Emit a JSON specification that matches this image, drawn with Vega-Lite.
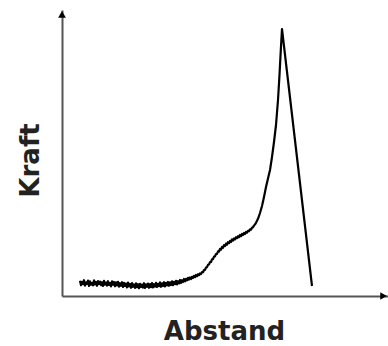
{
  "$schema": "https://vega.github.io/schema/vega-lite/v6.json",
  "width": 326,
  "height": 286,
  "autosize": {"type": "none"},
  "padding": {"left": 62, "top": 10, "right": 0, "bottom": 50},
  "background": "white",
  "config": {"view": {"stroke": null}},
  "datasets": {
    "curve": [
      {"d": 9, "f": 7.6}, {"d": 9.5, "f": 5.4}, {"d": 10, "f": 7.1}, {"d": 10.5, "f": 5.9}, {"d": 11, "f": 7.9},
      {"d": 11.5, "f": 5.2}, {"d": 12, "f": 6.8}, {"d": 12.5, "f": 6.1}, {"d": 13, "f": 7.7}, {"d": 13.5, "f": 5.0},
      {"d": 14, "f": 7.3}, {"d": 14.5, "f": 5.6}, {"d": 15, "f": 6.6}, {"d": 15.5, "f": 5.3}, {"d": 16, "f": 7.8},
      {"d": 16.5, "f": 5.8}, {"d": 17, "f": 7.0}, {"d": 17.5, "f": 5.1}, {"d": 18, "f": 7.5}, {"d": 18.5, "f": 6.0},
      {"d": 19, "f": 7.2}, {"d": 19.5, "f": 5.4}, {"d": 20, "f": 6.9}, {"d": 20.5, "f": 5.0}, {"d": 21, "f": 7.6},
      {"d": 21.5, "f": 5.7}, {"d": 22, "f": 6.7}, {"d": 22.5, "f": 5.2}, {"d": 23, "f": 7.4}, {"d": 23.5, "f": 5.5},
      {"d": 24, "f": 6.5}, {"d": 24.5, "f": 4.8}, {"d": 25, "f": 7.3}, {"d": 25.5, "f": 5.6}, {"d": 26, "f": 7.0},
      {"d": 26.5, "f": 4.9}, {"d": 27, "f": 6.8}, {"d": 27.5, "f": 5.3}, {"d": 28, "f": 7.1}, {"d": 28.5, "f": 4.7},
      {"d": 29, "f": 6.4}, {"d": 29.5, "f": 5.1}, {"d": 30, "f": 6.9}, {"d": 30.5, "f": 4.5}, {"d": 31, "f": 6.6},
      {"d": 31.5, "f": 5.0}, {"d": 32, "f": 6.2}, {"d": 32.5, "f": 4.3}, {"d": 33, "f": 6.7}, {"d": 33.5, "f": 4.8},
      {"d": 34, "f": 6.0}, {"d": 34.5, "f": 4.1}, {"d": 35, "f": 6.5}, {"d": 35.5, "f": 4.6}, {"d": 36, "f": 5.8},
      {"d": 36.5, "f": 4.0}, {"d": 37, "f": 6.3}, {"d": 37.5, "f": 4.4}, {"d": 38, "f": 5.9}, {"d": 38.5, "f": 3.9},
      {"d": 39, "f": 6.1}, {"d": 39.5, "f": 4.5}, {"d": 40, "f": 5.7}, {"d": 40.5, "f": 4.2}, {"d": 41, "f": 6.4},
      {"d": 41.5, "f": 4.0}, {"d": 42, "f": 5.8}, {"d": 42.5, "f": 4.6}, {"d": 43, "f": 6.2}, {"d": 43.5, "f": 4.1},
      {"d": 44, "f": 6.0}, {"d": 44.5, "f": 4.4}, {"d": 45, "f": 6.5}, {"d": 45.5, "f": 4.3}, {"d": 46, "f": 5.9},
      {"d": 46.5, "f": 4.7}, {"d": 47, "f": 6.6}, {"d": 47.5, "f": 4.5}, {"d": 48, "f": 6.1}, {"d": 48.5, "f": 4.9},
      {"d": 49, "f": 6.8}, {"d": 49.5, "f": 4.6}, {"d": 50, "f": 6.3}, {"d": 50.5, "f": 5.0}, {"d": 51, "f": 6.9},
      {"d": 51.5, "f": 4.8}, {"d": 52, "f": 6.6}, {"d": 52.5, "f": 5.3}, {"d": 53, "f": 7.0}, {"d": 53.5, "f": 5.1},
      {"d": 54, "f": 6.8}, {"d": 54.5, "f": 5.5}, {"d": 55, "f": 7.3}, {"d": 55.5, "f": 5.4}, {"d": 56, "f": 7.1},
      {"d": 56.5, "f": 5.9}, {"d": 57, "f": 7.6}, {"d": 57.5, "f": 5.8}, {"d": 58, "f": 7.4}, {"d": 58.5, "f": 6.3},
      {"d": 59, "f": 8.0}, {"d": 59.5, "f": 6.5}, {"d": 60, "f": 7.9}, {"d": 60.5, "f": 7.0}, {"d": 61, "f": 8.5},
      {"d": 61.5, "f": 7.3}, {"d": 62, "f": 8.6}, {"d": 62.5, "f": 7.8}, {"d": 63, "f": 9.1}, {"d": 63.5, "f": 8.2},
      {"d": 64, "f": 9.3}, {"d": 64.5, "f": 8.5}, {"d": 65, "f": 9.6}, {"d": 65.5, "f": 9.0}, {"d": 66, "f": 10.1},
      {"d": 66.5, "f": 9.4}, {"d": 67, "f": 10.5}, {"d": 67.5, "f": 9.9}, {"d": 68, "f": 10.9}, {"d": 68.5, "f": 10.4},
      {"d": 69, "f": 11.3}, {"d": 69.5, "f": 11.0}, {"d": 70, "f": 12.0}, {"d": 70.5, "f": 11.9}, {"d": 71, "f": 13.0},
      {"d": 71.5, "f": 13.1}, {"d": 72, "f": 14.2}, {"d": 72.5, "f": 14.4}, {"d": 73, "f": 15.6}, {"d": 73.5, "f": 15.8},
      {"d": 74, "f": 16.9}, {"d": 74.5, "f": 17.0}, {"d": 75, "f": 18.3}, {"d": 75.5, "f": 18.4}, {"d": 76, "f": 19.7},
      {"d": 76.5, "f": 19.8}, {"d": 77, "f": 21.0}, {"d": 77.5, "f": 21.1}, {"d": 78, "f": 22.3}, {"d": 78.5, "f": 22.2},
      {"d": 79, "f": 23.5}, {"d": 79.5, "f": 23.2}, {"d": 80, "f": 24.5}, {"d": 80.5, "f": 24.1}, {"d": 81, "f": 25.4},
      {"d": 81.5, "f": 25.0}, {"d": 82, "f": 26.2}, {"d": 82.5, "f": 25.7}, {"d": 83, "f": 26.9}, {"d": 83.5, "f": 26.4},
      {"d": 84, "f": 27.6}, {"d": 84.5, "f": 27.0}, {"d": 85, "f": 28.3}, {"d": 85.5, "f": 27.7}, {"d": 86, "f": 28.8},
      {"d": 86.5, "f": 28.3}, {"d": 87, "f": 29.4}, {"d": 87.5, "f": 28.9}, {"d": 88, "f": 29.9}, {"d": 88.5, "f": 29.4},
      {"d": 89, "f": 30.5}, {"d": 89.5, "f": 29.9}, {"d": 90, "f": 31.0}, {"d": 90.5, "f": 30.5}, {"d": 91, "f": 31.5},
      {"d": 91.5, "f": 31.0}, {"d": 92, "f": 32.0}, {"d": 92.5, "f": 31.7}, {"d": 93, "f": 32.6}, {"d": 93.5, "f": 32.4},
      {"d": 94, "f": 33.3}, {"d": 94.5, "f": 33.2}, {"d": 95, "f": 34.1}, {"d": 95.5, "f": 34.4}, {"d": 96, "f": 35.2},
      {"d": 96.5, "f": 35.8}, {"d": 97, "f": 36.6}, {"d": 98, "f": 38.6},
      {"d": 99, "f": 41.5}, {"d": 100, "f": 45}, {"d": 101, "f": 49.5}, {"d": 102, "f": 54.5}, {"d": 103, "f": 58.8},
      {"d": 104, "f": 63}, {"d": 105, "f": 69.5}, {"d": 106, "f": 77}, {"d": 107, "f": 85.5}, {"d": 108, "f": 98},
      {"d": 108.75, "f": 110.5}, {"d": 109.4, "f": 123}, {"d": 110, "f": 133.5},
      {"d": 125, "f": 5}
    ],
    "arrows": [
      {"d": 0, "f": 140.8, "shape": "triangle-up"},
      {"d": 160.8, "f": 0, "shape": "triangle-right"}
    ]
  },
  "layer": [
    {
      "data": {"name": "curve"},
      "mark": {"type": "line", "color": "black", "strokeWidth": 2.2, "strokeJoin": "round", "clip": false},
      "encoding": {
        "x": {
          "field": "d", "type": "quantitative",
          "scale": {"domain": [0, 163], "nice": false, "zero": false},
          "axis": {
            "title": "Abstand", "labels": false, "ticks": false, "grid": false,
            "domainColor": "#555", "domainWidth": 2,
            "titleFont": "DejaVu Sans", "titleFontSize": 26, "titleFontWeight": "bold", "titleColor": "#222",
            "titleBaseline": "alphabetic", "titleAnchor": "start", "titleAlign": "center",
            "titleX": 162, "titleY": 43
          }
        },
        "y": {
          "field": "f", "type": "quantitative",
          "scale": {"domain": [0, 143], "nice": false, "zero": false},
          "axis": {
            "title": "Kraft", "labels": false, "ticks": false, "grid": false,
            "domainColor": "#555", "domainWidth": 2,
            "titleFont": "DejaVu Sans", "titleFontSize": 26, "titleFontWeight": "bold", "titleColor": "#222",
            "titleBaseline": "alphabetic", "titleAngle": 270, "titleAlign": "center",
            "titleX": -24, "titleY": 150
          }
        }
      }
    },
    {
      "data": {"name": "arrows"},
      "mark": {"type": "point", "filled": true, "color": "black", "size": 60, "opacity": 1, "clip": false},
      "encoding": {
        "x": {"field": "d", "type": "quantitative"},
        "y": {"field": "f", "type": "quantitative"},
        "shape": {"field": "shape", "type": "nominal", "scale": null}
      }
    }
  ]
}
